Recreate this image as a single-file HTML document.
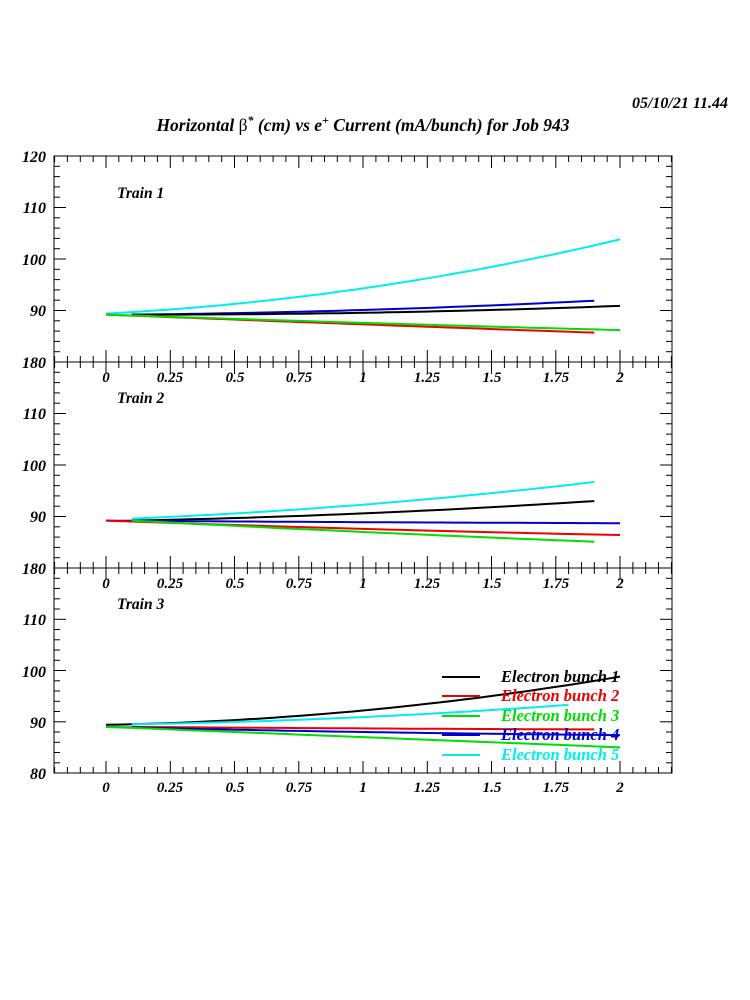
<!DOCTYPE html>
<html><head><meta charset="utf-8"><style>
body{margin:0;background:#fff}
svg{display:block}
text{font-family:"Liberation Serif",serif;font-weight:bold;font-style:italic}
</style></head><body>
<svg id="s" width="750" height="1000" xmlns="http://www.w3.org/2000/svg">
<rect width="750" height="1000" fill="#fff"/>
<text x="728" y="108" font-size="16" text-anchor="end">05/10/21  11.44</text>
<text x="363" y="131" font-size="17.5" text-anchor="middle">Horizontal <tspan font-style="normal" font-weight="normal">β</tspan><tspan dy="-7" font-size="12">*</tspan><tspan dy="7"> (cm) vs e</tspan><tspan dy="-7" font-size="12">+</tspan><tspan dy="7"> Current (mA/bunch) for Job 943</tspan></text>
<g font-size="16" text-anchor="end">
<text x="46" y="162">120</text><text x="46" y="213">110</text><text x="46" y="265">100</text><text x="46" y="316">90</text><text x="46" y="368">180</text>
<text x="46" y="419">110</text><text x="46" y="471">100</text><text x="46" y="522">90</text><text x="46" y="574">180</text>
<text x="46" y="625">110</text><text x="46" y="677">100</text><text x="46" y="728">90</text><text x="46" y="779">80</text>
</g>
<text x="117" y="198" font-size="15.5">Train 1</text>
<text x="117" y="403" font-size="15.5">Train 2</text>
<text x="117" y="609" font-size="15.5">Train 3</text>
<g id="g"></g>
<g font-size="16.5">
<text x="501" y="682" fill="#000">Electron bunch 1</text>
<text x="501" y="701" fill="#e00">Electron bunch 2</text>
<text x="501" y="721" fill="#0d0">Electron bunch 3</text>
<text x="501" y="740" fill="#00c">Electron bunch 4</text>
<text x="501" y="760" fill="#0ee">Electron bunch 5</text>
</g>
<g id="xlab" font-size="15" text-anchor="middle">
<text x="106" y="382">0</text><text x="170" y="382">0.25</text><text x="235" y="382">0.5</text><text x="299" y="382">0.75</text><text x="363" y="382">1</text><text x="427" y="382">1.25</text><text x="492" y="382">1.5</text><text x="556" y="382">1.75</text><text x="620" y="382">2</text>
<text x="106" y="588">0</text><text x="170" y="588">0.25</text><text x="235" y="588">0.5</text><text x="299" y="588">0.75</text><text x="363" y="588">1</text><text x="427" y="588">1.25</text><text x="492" y="588">1.5</text><text x="556" y="588">1.75</text><text x="620" y="588">2</text>
<text x="106" y="792">0</text><text x="170" y="792">0.25</text><text x="235" y="792">0.5</text><text x="299" y="792">0.75</text><text x="363" y="792">1</text><text x="427" y="792">1.25</text><text x="492" y="792">1.5</text><text x="556" y="792">1.75</text><text x="620" y="792">2</text>
</g>
</svg>
<script>
var g=document.getElementById('g'),h='';
function X(v){return 106+v*257;}
var panels=[[156,362],[362,568],[568,773]];
panels.forEach(function(p){
 var t=p[0],b=p[1],s=(b-t)/40;
 h+='<rect x="54" y="'+t+'" width="618" height="'+(b-t)+'" fill="none" stroke="#000" stroke-width="1"/>';
 for(var i=-4;i<=44;i++){var v=i*0.05;if(v<-0.2-1e-9||v>2.2+1e-9)continue;var x=X(v).toFixed(1);var L=(i%5==0)?12:6;
  h+='<line x1="'+x+'" y1="'+b+'" x2="'+x+'" y2="'+(b-L)+'" stroke="#000"/>';
  h+='<line x1="'+x+'" y1="'+t+'" x2="'+x+'" y2="'+(t+L)+'" stroke="#000"/>';}
 for(var j=0;j<=20;j++){var y=(b-j*2*s).toFixed(1);var L=(j%5==0)?12:6;
  h+='<line x1="54" y1="'+y+'" x2="'+(54+L)+'" y2="'+y+'" stroke="#000"/>';
  h+='<line x1="672" y1="'+y+'" x2="'+(672-L)+'" y2="'+y+'" stroke="#000"/>';}
});
function curve(pi,x0,x1,v0,vm,v1,col){
 var t=panels[pi][0],b=panels[pi][1],s=(b-t)/40,pts=[];
 for(var k=0;k<=40;k++){var u=k/40;var x=x0+(x1-x0)*u;
  var v=v0*(1-u)*(1-2*u)+vm*4*u*(1-u)+v1*u*(2*u-1);
  pts.push(X(x).toFixed(1)+','+(b-(v-80)*s).toFixed(1));}
 h+='<polyline points="'+pts.join(' ')+'" fill="none" stroke="'+col+'" stroke-width="2"/>';
}
var K='#000',R='#e00',G='#0d0',B='#00c',C='#0ee';
curve(0,0,2,89.4,94.3,103.8,C);
curve(0,0.1,1.9,89.2,90.1,91.9,B);
curve(0,0.1,2,89.2,89.6,90.9,K);
curve(0,0,1.9,89.2,87.4,85.7,R);
curve(0,0,2,89.2,87.6,86.2,G);
curve(1,0.1,1.9,89.6,92.3,96.7,C);
curve(1,0.1,1.9,89.2,90.6,93,K);
curve(1,0,2,89.2,88.9,88.7,B);
curve(1,0,2,89.2,87.6,86.4,R);
curve(1,0.1,1.9,89.2,87.0,85.1,G);
curve(2,0,2,89.4,92.2,98.8,K);
curve(2,0.1,1.8,89.5,90.8,93.3,C);
curve(2,0.1,1.9,89,88.7,88.5,R);
curve(2,0,2,89,88,87.4,B);
curve(2,0,2,89,87,85,G);
var L=[[677,K],[696,R],[716,G],[735,B],[755,C]];
L.forEach(function(l){h+='<line x1="442" y1="'+l[0]+'" x2="480" y2="'+l[0]+'" stroke="'+l[1]+'" stroke-width="2"/>';});
g.innerHTML=h;
</script>
</body></html>
